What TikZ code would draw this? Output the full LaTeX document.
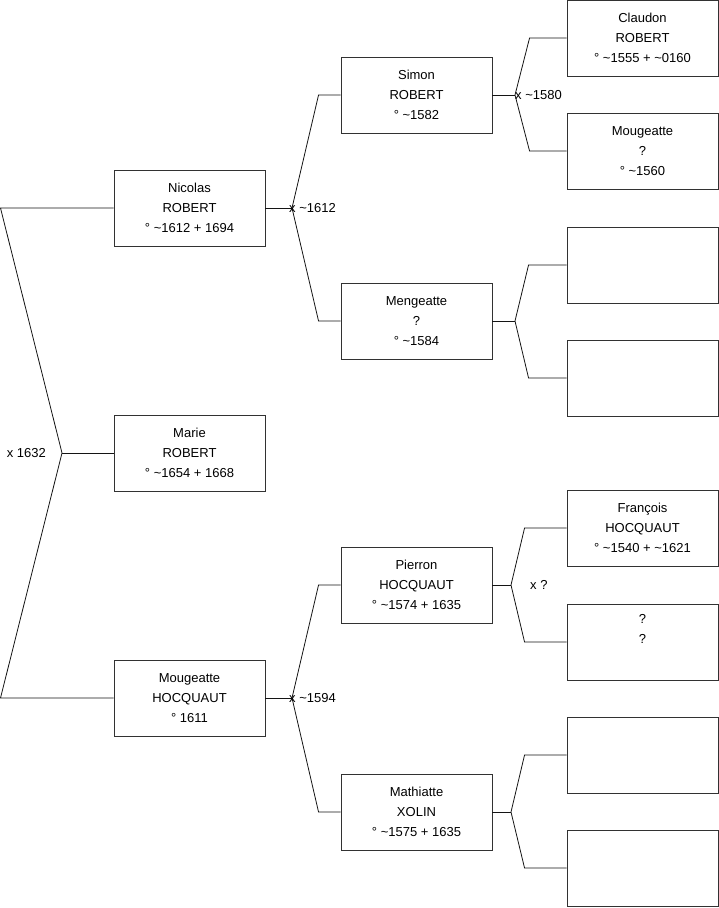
\documentclass[tikz,border=0pt]{standalone}
\usepackage{fontspec}
\setmainfont{Liberation Sans}
\usepackage{xcolor}
\usetikzlibrary{positioning}
\definecolor{cbox}{RGB}{50, 50, 50}
\definecolor{cline}{RGB}{20, 20, 20}
\newcommand{\ca}{\textasciitilde}

\tikzset{
  person/.style={draw=cbox, line width=0.9pt, minimum width=151pt, minimum height=76pt,
    align=center, inner sep=0pt},
  link/.style={draw=cline, line width=0.8pt},
  union/.style={inner sep=0pt, anchor=west}
}

\begin{document}
\begin{tikzpicture}[x=1pt, y=-1pt, font=\fontsize{13}{20}\selectfont]
  \useasboundingbox (0,0) rectangle (719,908);

  % generation 1
  \node[person] (nicolas) at (189.5,208) {Nicolas\\ROBERT\\° \ca1612 + 1694};
  \node[person] (marie) at (189.5,453) {Marie\\ROBERT\\° \ca1654 + 1668};
  \node[person] (mougeatte) at (189.5,698) {Mougeatte\\HOCQUAUT\\° 1611};

  % generation 2
  \node[person] (simon) at (416.5,95) {Simon\\ROBERT\\° \ca1582};
  \node[person] (mengeatte) at (416.5,321) {Mengeatte\\?\\° \ca1584};
  \node[person] (pierron) at (416.5,585) {Pierron\\HOCQUAUT\\° \ca1574 + 1635};
  \node[person] (mathiatte) at (416.5,812) {Mathiatte\\XOLIN\\° \ca1575 + 1635};

  % generation 3
  \node[person] (claudon) at (642.5,38) {Claudon\\ROBERT\\° \ca1555 + \ca0160};
  \node[person] (mougeatteb) at (642.5,151) {Mougeatte\\?\\° \ca1560};
  \node[person] (emptya) at (642.5,265) {};
  \node[person] (emptyb) at (642.5,378) {};
  \node[person] (francois) at (642.5,528) {François\\HOCQUAUT\\° \ca1540 + \ca1621};
  \node[person] (unknown) at (642.5,642) {?\\?\\\strut};
  \node[person] (emptyc) at (642.5,755) {};
  \node[person] (emptyd) at (642.5,868) {};

  % fork vertices
  \coordinate (v0) at (62,453);
  \coordinate (v1) at (292,208);
  \coordinate (v2) at (292,698);
  \coordinate (v3) at (515,95);
  \coordinate (v4) at (515,321);
  \coordinate (v5) at (511,585);
  \coordinate (v6) at (511,812);

  % links
  \draw[link] (nicolas.west) -- (0.5,208) -- (v0) -- (0.5,698) -- (mougeatte.west);
  \draw[link] (v0) -- (marie.west);

  \draw[link] (nicolas.east) -- (v1);
  \draw[link] (simon.west) -- ([xshift=-22pt]simon.west) -- (v1)
    -- ([xshift=-22pt]mengeatte.west) -- (mengeatte.west);
  \draw[link] (mougeatte.east) -- (v2);
  \draw[link] (pierron.west) -- ([xshift=-22pt]pierron.west) -- (v2)
    -- ([xshift=-22pt]mathiatte.west) -- (mathiatte.west);

  \draw[link] (simon.east) -- (v3);
  \draw[link] (claudon.west) -- ([xshift=-37pt]claudon.west) -- (v3)
    -- ([xshift=-37pt]mougeatteb.west) -- (mougeatteb.west);
  \draw[link] (mengeatte.east) -- (v4);
  \draw[link] (emptya.west) -- ([xshift=-38pt]emptya.west) -- (v4)
    -- ([xshift=-38pt]emptyb.west) -- (emptyb.west);
  \draw[link] (pierron.east) -- (v5);
  \draw[link] (francois.west) -- ([xshift=-42pt]francois.west) -- (v5)
    -- ([xshift=-42pt]unknown.west) -- (unknown.west);
  \draw[link] (mathiatte.east) -- (v6);
  \draw[link] (emptyc.west) -- ([xshift=-42pt]emptyc.west) -- (v6)
    -- ([xshift=-42pt]emptyd.west) -- (emptyd.west);

  % marriages
  \node[union, anchor=east, left=16pt of v0] (m0) {x 1632};
  \node[union] (m1) at ([xshift=-3pt]v1) {x \ca1612};
  \node[union] (m2) at ([xshift=-3pt]v2) {x \ca1594};
  \node[union] (m3) at ([xshift=0pt]v3) {x \ca1580};
  \node[union, right=19pt of v5] (m5) {x ?};
\end{tikzpicture}
\end{document}
